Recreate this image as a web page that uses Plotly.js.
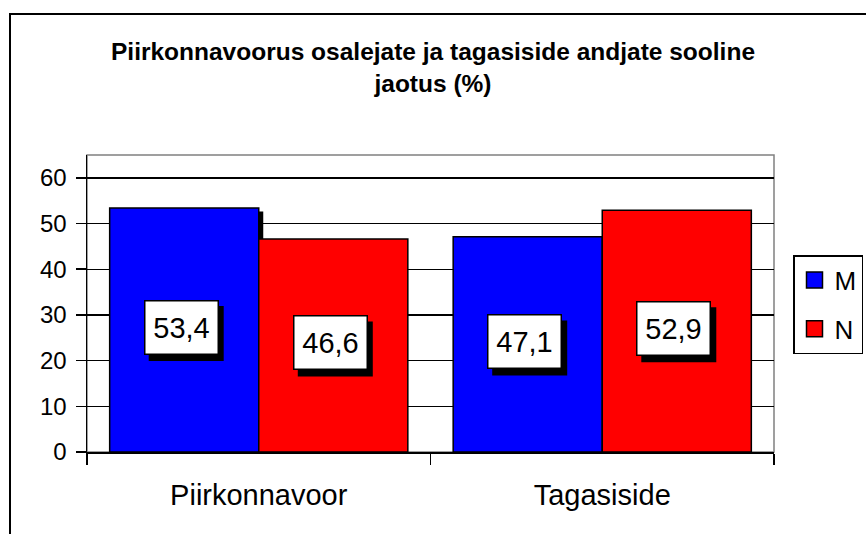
<!DOCTYPE html>
<html>
<head>
<meta charset="utf-8">
<script src="https://cdn.plot.ly/plotly-3.0.1.min.js"></script>
<style>
  html, body { margin: 0; padding: 0; background: #fff; overflow: hidden; }
  #wrap { position: relative; width: 866px; height: 534px; overflow: hidden; }
  #chart { width: 866px; height: 534px; }
  #frame { position: absolute; left: 9px; top: 13px; width: 1000px; height: 1000px;
           border: 2px solid #000; pointer-events: none; }
</style>
</head>
<body>
<div id="wrap">
  <div id="chart"></div>
  <div id="frame"></div>
</div>
<script>
// ---- data ----
const categories = ["Piirkonnavoor", "Tagasiside"];
const seriesNames = ["M", "N"];
const valuesM = [53.4, 47.1];
const valuesN = [46.6, 52.9];
const yTicks = [0, 10, 20, 30, 40, 50, 60];
const chartTitle = "Piirkonnavoorus osalejate ja tagasiside andjate sooline<br>jaotus (%)";

// ---- style ----
const colors = ["#0000FF", "#FF0000"];
const seriesValues = [valuesM, valuesN];
const bargap = 0.132;
const FONT = "Liberation Sans, Arial, sans-serif";
const W = 866, H = 534;
const M = { l: 87, r: 92, t: 155, b: 82 };
const yMax = 65;
const plotW = W - M.l - M.r, plotH = H - M.t - M.b;
const pxPerCat = plotW / categories.length;
const pxPerY = plotH / yMax;

const traces = [];
seriesValues.forEach((vals, i) => {
  traces.push({
    type: "bar",
    name: seriesNames[i],
    x: categories,
    y: vals,
    marker: { color: colors[i], line: { color: "#000", width: 1.5 } },
    showlegend: false,
    hoverinfo: "x+y+name"
  });
});
// legend entries (square markers like the original legend)
seriesNames.forEach((nm, i) => {
  traces.push({
    type: "scatter",
    mode: "markers",
    name: nm,
    legendgroup: "g" + i,
    x: [null], y: [null],
    marker: { symbol: "square", size: 18, color: colors[i], line: { color: "#000", width: 1.5 } },
    showlegend: true
  });
});

const fmt = v => v.toFixed(1).replace(".", ",");
const barW = (1 - bargap) / 2;
const annotations = [];
const shapes = [{
  type: "rect", xref: "paper", yref: "paper", x0: 0, x1: 1, y0: 0, y1: 1,
  line: { color: "#808080", width: 1.5 }, layer: "below"
}];

// drop shadow behind the blue (M) bars
valuesM.forEach((v, j) => {
  const xc = j - barW / 2;
  const dx = 4.5 / pxPerCat, dy = 3.5 / pxPerY;
  shapes.push({
    type: "rect", xref: "x", yref: "y",
    x0: xc - barW / 2 + dx, x1: xc + barW / 2 + dx,
    y0: 0, y1: v - dy,
    fillcolor: "#000", line: { width: 0 }, layer: "between"
  });
});

// value labels: white boxes with a black drop shadow
seriesValues.forEach((vals, i) => {
  vals.forEach((v, j) => {
    const xc = j + (i === 0 ? -1 : 1) * barW / 2;
    shapes.push({
      type: "rect", xref: "x", yref: "y",
      xsizemode: "pixel", ysizemode: "pixel",
      xanchor: xc, yanchor: v / 2,
      x0: -35.5, x1: 39.5, y0: -31, y1: 24,
      fillcolor: "#000", line: { width: 0 }, layer: "above"
    });
    annotations.push({
      x: xc, y: v / 2, xref: "x", yref: "y",
      text: fmt(v), showarrow: false,
      font: { family: FONT, size: 29, color: "#000" },
      width: 72, height: 52, borderpad: 0, borderwidth: 1.5,
      xshift: -3, yshift: 3, bgcolor: "#fff", bordercolor: "#000"
    });
  });
});

const layout = {
  width: W, height: H,
  margin: Object.assign({ autoexpand: false }, M),
  paper_bgcolor: "#fff", plot_bgcolor: "#fff",
  font: { family: FONT, color: "#000" },
  title: {
    text: "<b>" + chartTitle + "</b>",
    font: { family: FONT, size: 24.5, color: "#000" },
    x: 0.5, xref: "container", xanchor: "center",
    y: 1 - 60 / H, yref: "container", yanchor: "middle"
  },
  barmode: "group",
  bargap: bargap,
  bargroupgap: 0,
  xaxis: {
    type: "category",
    range: [-0.5, 1.5],
    showline: true, linecolor: "#000", linewidth: 1.5,
    ticks: "outside", tickson: "boundaries", ticklen: 11, tickwidth: 1.5, tickcolor: "#000",
    tickfont: { family: FONT, size: 29, color: "#000" },
    ticklabelstandoff: 17,
    showgrid: false, zeroline: false, fixedrange: true
  },
  yaxis: {
    range: [0, yMax],
    tickvals: yTicks,
    ticks: "outside", ticklen: 10, tickwidth: 1.5, tickcolor: "#000",
    tickfont: { family: FONT, size: 24, color: "#000" },
    ticklabelstandoff: 4,
    showline: true, linecolor: "#000", linewidth: 1.5,
    showgrid: true, gridcolor: "#000", gridwidth: 1.3,
    zeroline: false, fixedrange: true
  },
  shapes: shapes,
  legend: {
    x: (793 - M.l) / plotW, y: (H - M.b - 255) / plotH, xanchor: "left", yanchor: "top",
    bordercolor: "#000", borderwidth: 1.5, bgcolor: "#fff",
    font: { family: FONT, size: 26, color: "#000" },
    traceorder: "grouped", tracegroupgap: 12, itemwidth: 30
  },
  annotations: annotations
};

Plotly.newPlot("chart", traces, layout, { displayModeBar: false, staticPlot: true });
</script>
</body>
</html>
